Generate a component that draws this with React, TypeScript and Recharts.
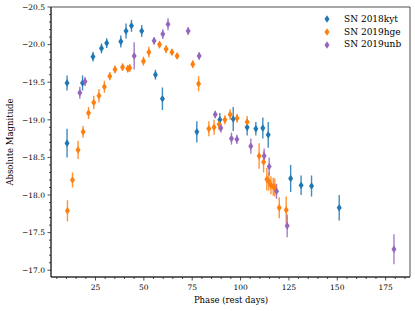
import { ScatterChart, Scatter, XAxis, YAxis, ErrorBar, ReferenceArea } from "recharts";

// SN 2018kyt
const kytPhase = [10.3, 10.3, 18.3, 23.7, 28.1, 30.8, 38.1, 40.8, 43.6, 48.9, 56.0, 59.6, 77.4, 89.3, 96.2, 103.4, 107.9, 111.5, 114.3, 125.9, 131.3, 136.7, 151.0];
const kytMag = [-19.49, -18.69, -19.49, -19.84, -19.95, -20.02, -20.04, -20.18, -20.25, -20.18, -19.6, -19.28, -18.84, -19.0, -19.01, -18.9, -18.88, -18.89, -18.8, -18.22, -18.13, -18.12, -17.83];
const kytErr = [0.1, 0.19, 0.1, 0.066, 0.066, 0.066, 0.08, 0.1, 0.08, 0.08, 0.065, 0.15, 0.14, 0.09, 0.16, 0.11, 0.09, 0.14, 0.17, 0.18, 0.13, 0.14, 0.17];

// SN 2019hge
const hgePhase = [10.5, 13.1, 16.0, 18.6, 21.4, 24.1, 26.8, 29.6, 32.4, 35.1, 39.0, 41.7, 42.7, 49.8, 52.6, 58.1, 61.5, 64.5, 67.2, 75.3, 78.3, 83.6, 86.3, 88.9, 91.9, 94.6, 98.2, 103.4, 109.6, 111.9, 113.6, 114.6, 115.7, 116.9, 117.7, 120.0, 123.6];
const hgeMag = [-17.79, -18.2, -18.6, -18.84, -19.09, -19.23, -19.32, -19.44, -19.58, -19.67, -19.7, -19.68, -19.69, -19.78, -19.9, -20.0, -19.94, -19.9, -19.85, -19.74, -19.48, -18.88, -18.9, -18.94, -19.0, -19.07, -19.02, -18.97, -18.52, -18.44, -18.21, -18.18, -18.13, -18.11, -18.1, -17.83, -17.8];
const hgeErr = [0.14, 0.1, 0.12, 0.08, 0.08, 0.09, 0.09, 0.08, 0.055, 0.05, 0.05, 0.05, 0.05, 0.06, 0.07, 0.05, 0.05, 0.04, 0.04, 0.05, 0.1, 0.1, 0.1, 0.08, 0.06, 0.07, 0.06, 0.08, 0.17, 0.14, 0.15, 0.12, 0.12, 0.12, 0.12, 0.14, 0.18];

// SN 2019unb
const unbPhase = [16.9, 19.6, 45.0, 55.3, 59.8, 62.5, 72.9, 78.6, 86.9, 89.8, 95.3, 98.1, 105.3, 112.2, 114.8, 118.6, 124.1, 179.3];
const unbMag = [-19.36, -19.51, -19.85, -20.05, -20.14, -20.27, -20.18, -19.85, -19.07, -18.89, -18.75, -18.74, -18.65, -18.52, -18.38, -18.05, -17.59, -17.28];
const unbErr = [0.08, 0.06, 0.18, 0.05, 0.065, 0.08, 0.05, 0.05, 0.05, 0.06, 0.08, 0.06, 0.1, 0.1, 0.12, 0.1, 0.15, 0.2];

const xMajor = [25, 50, 75, 100, 125, 150, 175];
const yMajor = [-20.5, -20.0, -19.5, -19.0, -18.5, -18.0, -17.5, -17.0];

const xTicks = Array.from({ length: 37 }, (_, i) => 5 * (i + 1));
const yTicks = yMajor.flatMap((v, i) => (i === yMajor.length - 1 ? [v] : [0, 1, 2, 3, 4].map((k) => +(v + k * 0.1).toFixed(1))));

const FONT = "DejaVu Serif";
const PLOT_LEFT = 51;
const PLOT_BOTTOM = 277;
const AXIS = "#222";

const series = [
  { name: "SN 2018kyt", color: "#1f77b4", data: kytPhase.map((x, i) => ({ x, y: kytMag[i], err: kytErr[i] })) },
  { name: "SN 2019hge", color: "#ff7f0e", data: hgePhase.map((x, i) => ({ x, y: hgeMag[i], err: hgeErr[i] })) },
  { name: "SN 2019unb", color: "#9467bd", data: unbPhase.map((x, i) => ({ x, y: unbMag[i], err: unbErr[i] })) },
];

const minus = (v: number) => v.toFixed(1).replace("-", "\u2212");

function XTick({ x, payload }: any) {
  const v = payload.value;
  const major = xMajor.includes(v);
  return (
    <g>
      <line x1={x} x2={x} y1={PLOT_BOTTOM} y2={PLOT_BOTTOM + (major ? 3.5 : 2)} stroke={AXIS} strokeWidth={0.8} />
      {major && (
        <text x={x} y={PLOT_BOTTOM + 13} textAnchor="middle" fontSize={7.5} fontFamily={FONT} fill="#000">
          {v}
        </text>
      )}
    </g>
  );
}

function YTick({ y, payload }: any) {
  const v = payload.value;
  const major = yMajor.some((m) => Math.abs(m - v) < 1e-6);
  return (
    <g>
      <line x1={PLOT_LEFT} x2={PLOT_LEFT - (major ? 3.5 : 2)} y1={y} y2={y} stroke={AXIS} strokeWidth={0.8} />
      {major && (
        <text x={PLOT_LEFT - 6} y={y + 2.7} textAnchor="end" fontSize={7.5} fontFamily={FONT} fill="#000">
          {minus(v)}
        </text>
      )}
    </g>
  );
}

const Diamond = (color: string) => (props: any) => {
  const { cx, cy } = props;
  return <polygon points={`${cx},${cy - 3.8} ${cx + 2.5},${cy} ${cx},${cy + 3.8} ${cx - 2.5},${cy}`} fill={color} />;
};

function LegendBox() {
  return (
    <div style={{ position: "absolute", left: 318, top: 13, fontFamily: FONT, fontSize: 9, lineHeight: "12.7px" }}>
      {series.map((s) => (
        <div key={s.name} style={{ display: "flex", alignItems: "center", whiteSpace: "nowrap" }}>
          <svg width={18} height={12} style={{ marginRight: 8 }}>
            <polygon points="9,2.2 11.5,6 9,9.8 6.5,6" fill={s.color} />
          </svg>
          <span>{s.name}</span>
        </div>
      ))}
    </div>
  );
}

export default function App() {
  return (
    <div style={{ position: "absolute", left: 0, top: 0, width: 415, height: 311, background: "#fff" }}>
      <ScatterChart width={415} height={311} margin={{ top: 7, right: 5, bottom: 13, left: 11 }}>
        <XAxis
          type="number"
          dataKey="x"
          domain={[2, 187.6]}
          allowDataOverflow
          ticks={xTicks}
          interval={0}
          tick={<XTick />}
          tickLine={false}
          height={21}
          stroke={AXIS}
          label={{
            content: () => (
              <text x={231} y={303} textAnchor="middle" fontSize={8.5} fontFamily={FONT} fill="#000">
                Phase (rest days)
              </text>
            ),
          }}
        />
        <YAxis
          type="number"
          dataKey="y"
          domain={[-20.5, -16.91]}
          reversed
          allowDataOverflow
          ticks={yTicks}
          interval={0}
          tick={<YTick />}
          tickLine={false}
          width={40}
          stroke={AXIS}
          label={{
            content: () => (
              <text x={13} y={142} textAnchor="middle" fontSize={8.5} fontFamily={FONT} fill="#000" transform="rotate(-90 13 142)">
                Absolute Magnitude
              </text>
            ),
          }}
        />
        <ReferenceArea x1={2} x2={187.6} y1={-20.5} y2={-16.91} fill="none" stroke={AXIS} strokeWidth={0.8} ifOverflow="visible" />
        {series.map((s) => (
          <Scatter key={s.name} name={s.name} data={s.data} fill={s.color} shape={Diamond(s.color)} isAnimationActive={false}>
            <ErrorBar dataKey="err" direction="y" width={0} stroke={s.color} strokeWidth={1.4} strokeOpacity={0.85} />
          </Scatter>
        ))}
      </ScatterChart>
      <LegendBox />
    </div>
  );
}
